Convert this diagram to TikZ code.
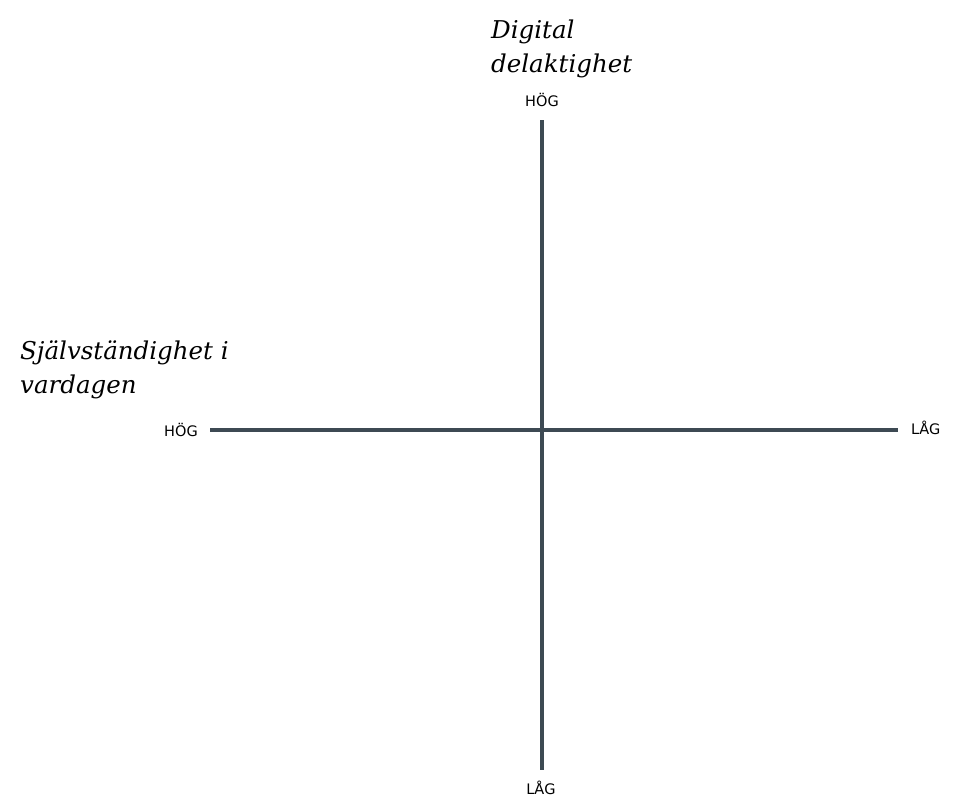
\documentclass[tikz,border=0pt]{standalone}
\usepackage{fontspec}
\setmainfont{DejaVu Serif}
\newfontfamily\labelfont{DejaVu Sans}
\begin{document}
\begin{tikzpicture}[x=1pt,y=-1pt,
  axis/.style={line width=4pt, draw=axisgray},
  endlabel/.style={font=\labelfont\fontsize{14.5}{17}\selectfont, inner sep=0pt},
  title/.style={font=\itshape\fontsize{24.5}{34}\selectfont, align=left, anchor=north west, inner sep=0pt}]
\definecolor{axisgray}{HTML}{3D4A53}
\useasboundingbox (0,0) rectangle (969,798);
% axes
\coordinate (vtop) at (542,120);
\coordinate (vbot) at (542,770);
\coordinate (hleft) at (210,430);
\coordinate (hright) at (898,430);
\draw[axis] (vtop) -- (vbot);
\draw[axis] (hleft) -- (hright);
% axis end labels
\node[endlabel] (ytop) at (542,100) {HÖG};
\node[endlabel] (ybot) at (541,788) {LÅG};
\node[endlabel, anchor=east] (xleft) at (198,430) {HÖG};
\node[endlabel, anchor=west] (xright) at (911,428) {LÅG};
% axis titles
\node[title] (ytitle) at (491,20) {Digital\\delaktighet};
\node[title] (xtitle) at (20,341) {Självständighet i\\vardagen};
\end{tikzpicture}
\end{document}
